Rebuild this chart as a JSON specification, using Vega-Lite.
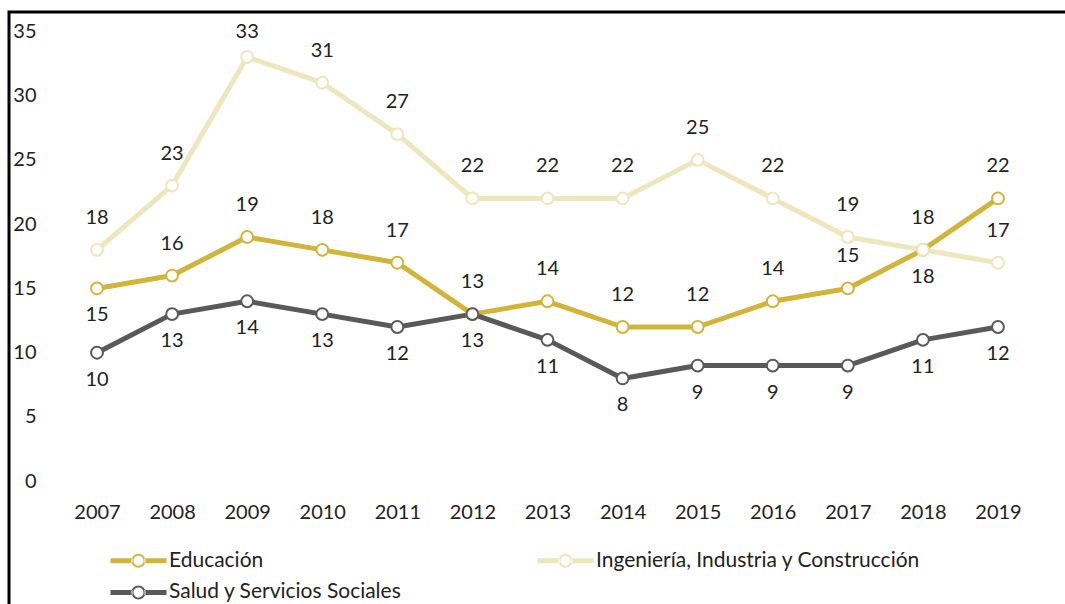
{
  "$schema": "https://vega.github.io/schema/vega-lite/v6.json",
  "autosize": {"type": "none"},
  "width": 1077,
  "height": 604.2857,
  "padding": {"left": 9, "top": 12, "right": 0, "bottom": 0},
  "background": "white",
  "title": {"text": "2007-2019", "anchor": "start", "dx": 119, "offset": 7, "baseline": "alphabetic", "font": "Lato", "fontSize": 21, "fontWeight": "bold", "color": "#222"},
  "config": {
    "view": {"stroke": "black", "strokeWidth": 3},
    "font": "Lato"
  },
  "data": {"values": [
    {"year": 2007, "series": "Educación", "value": 15},
    {"year": 2008, "series": "Educación", "value": 16},
    {"year": 2009, "series": "Educación", "value": 19},
    {"year": 2010, "series": "Educación", "value": 18},
    {"year": 2011, "series": "Educación", "value": 17},
    {"year": 2012, "series": "Educación", "value": 13},
    {"year": 2013, "series": "Educación", "value": 14},
    {"year": 2014, "series": "Educación", "value": 12},
    {"year": 2015, "series": "Educación", "value": 12},
    {"year": 2016, "series": "Educación", "value": 14},
    {"year": 2017, "series": "Educación", "value": 15},
    {"year": 2018, "series": "Educación", "value": 18},
    {"year": 2019, "series": "Educación", "value": 22},
    {"year": 2007, "series": "Ingeniería, Industria y Construcción", "value": 18},
    {"year": 2008, "series": "Ingeniería, Industria y Construcción", "value": 23},
    {"year": 2009, "series": "Ingeniería, Industria y Construcción", "value": 33},
    {"year": 2010, "series": "Ingeniería, Industria y Construcción", "value": 31},
    {"year": 2011, "series": "Ingeniería, Industria y Construcción", "value": 27},
    {"year": 2012, "series": "Ingeniería, Industria y Construcción", "value": 22},
    {"year": 2013, "series": "Ingeniería, Industria y Construcción", "value": 22},
    {"year": 2014, "series": "Ingeniería, Industria y Construcción", "value": 22},
    {"year": 2015, "series": "Ingeniería, Industria y Construcción", "value": 25},
    {"year": 2016, "series": "Ingeniería, Industria y Construcción", "value": 22},
    {"year": 2017, "series": "Ingeniería, Industria y Construcción", "value": 19},
    {"year": 2018, "series": "Ingeniería, Industria y Construcción", "value": 18},
    {"year": 2019, "series": "Ingeniería, Industria y Construcción", "value": 17},
    {"year": 2007, "series": "Salud y Servicios Sociales", "value": 10},
    {"year": 2008, "series": "Salud y Servicios Sociales", "value": 13},
    {"year": 2009, "series": "Salud y Servicios Sociales", "value": 14},
    {"year": 2010, "series": "Salud y Servicios Sociales", "value": 13},
    {"year": 2011, "series": "Salud y Servicios Sociales", "value": 12},
    {"year": 2012, "series": "Salud y Servicios Sociales", "value": 13},
    {"year": 2013, "series": "Salud y Servicios Sociales", "value": 11},
    {"year": 2014, "series": "Salud y Servicios Sociales", "value": 8},
    {"year": 2015, "series": "Salud y Servicios Sociales", "value": 9},
    {"year": 2016, "series": "Salud y Servicios Sociales", "value": 9},
    {"year": 2017, "series": "Salud y Servicios Sociales", "value": 9},
    {"year": 2018, "series": "Salud y Servicios Sociales", "value": 11},
    {"year": 2019, "series": "Salud y Servicios Sociales", "value": 12}
  ]},
  "encoding": {
    "x": {"field": "year", "type": "quantitative",
      "scale": {"domain": [2005.828, 2020.172], "nice": false, "zero": false},
      "axis": {"title": null, "values": [2007,2008,2009,2010,2011,2012,2013,2014,2015,2016,2017,2018,2019], "format": "d", "grid": false, "domain": false, "ticks": false, "offset": -114, "labelPadding": 0, "labelFont": "Lato", "labelFontSize": 20, "labelColor": "#222", "labelFontWeight": "normal", "labelFlush": false, "labelOverlap": false}},
    "y": {"field": "value", "type": "quantitative",
      "scale": {"domain": [-10.5, 36.5], "nice": false, "zero": false},
      "axis": {"title": null, "values": [0,5,10,15,20,25,30,35], "grid": false, "domain": false, "ticks": false, "offset": -27, "labelPadding": 0, "labelAlign": "right", "labelFont": "Lato", "labelFontSize": 20, "labelColor": "#222", "labelFlush": false, "labelOverlap": false}}
  },
  "layer": [
    {
      "data": {"values": [{"g": 0}, {"g": 5}, {"g": 10}, {"g": 15}, {"g": 20}, {"g": 25}, {"g": 30}, {"g": 35}]},
      "mark": {"type": "rule", "color": "#D9D9D9", "strokeWidth": 1.5},
      "encoding": {
        "x": {"datum": 2006.5, "type": "quantitative"},
        "x2": {"datum": 2019.5},
        "y": {"field": "g", "type": "quantitative"}
      }
    },
    {
      "mark": {"type": "line", "strokeWidth": 5, "strokeJoin": "round"},
      "encoding": {
        "color": {"field": "series", "type": "nominal",
          "scale": {"domain": ["Educación", "Ingeniería, Industria y Construcción", "Salud y Servicios Sociales"], "range": ["#D1B53A", "#EEE6BD", "#595959"]},
          "legend": {"title": null, "orient": "none", "legendX": 119, "legendY": 538, "direction": "horizontal", "columns": 2, "columnPadding": 135, "rowPadding": 10,
            "symbolType": "M-2.8,-0.25H-0.6V0.25H-2.8Z M0.6,-0.25H2.8V0.25H0.6Z M0.7,0A0.7,0.7 0 1,0 -0.7,0A0.7,0.7 0 1,0 0.7,0Z M0.5,0A0.5,0.5 0 1,1 -0.5,0A0.5,0.5 0 1,1 0.5,0Z",
            "symbolSize": 400, "symbolStrokeWidth": 0, "labelFont": "Lato", "labelFontSize": 21, "labelColor": "#222", "labelLimit": 0, "labelOffset": 20,
            "encode": {"symbols": {"update": {"fill": {"scale": "color", "field": "value"}, "stroke": {"value": "transparent"}, "opacity": {"value": 1}}}}}
        },
        "order": {"field": "year"}
      }
    },
    {
      "mark": {"type": "point", "filled": false, "fill": "white", "fillOpacity": 1, "strokeWidth": 2, "size": 140, "opacity": 1},
      "encoding": {
        "color": {"field": "series", "type": "nominal"}
      }
    },
    {
      "transform": [{"filter": "(datum.series == 'Ingeniería, Industria y Construcción' && datum.year != 2009) || (datum.series == 'Educación' && datum.year != 2007 && datum.year != 2018)"}],
      "mark": {"type": "text", "dy": -32, "baseline": "middle", "font": "Lato", "fontSize": 20, "color": "#222"},
      "encoding": {"text": {"field": "value", "type": "quantitative"}}
    },
    {
      "transform": [{"filter": "datum.series == 'Ingeniería, Industria y Construcción' && datum.year == 2009"}],
      "mark": {"type": "text", "dy": -25, "baseline": "middle", "font": "Lato", "fontSize": 20, "color": "#222"},
      "encoding": {"text": {"field": "value", "type": "quantitative"}}
    },
    {
      "transform": [{"filter": "datum.series == 'Salud y Servicios Sociales' || (datum.series == 'Educación' && (datum.year == 2007 || datum.year == 2018))"}],
      "mark": {"type": "text", "dy": 27, "baseline": "middle", "font": "Lato", "fontSize": 20, "color": "#222"},
      "encoding": {"text": {"field": "value", "type": "quantitative"}}
    }
  ]
}
